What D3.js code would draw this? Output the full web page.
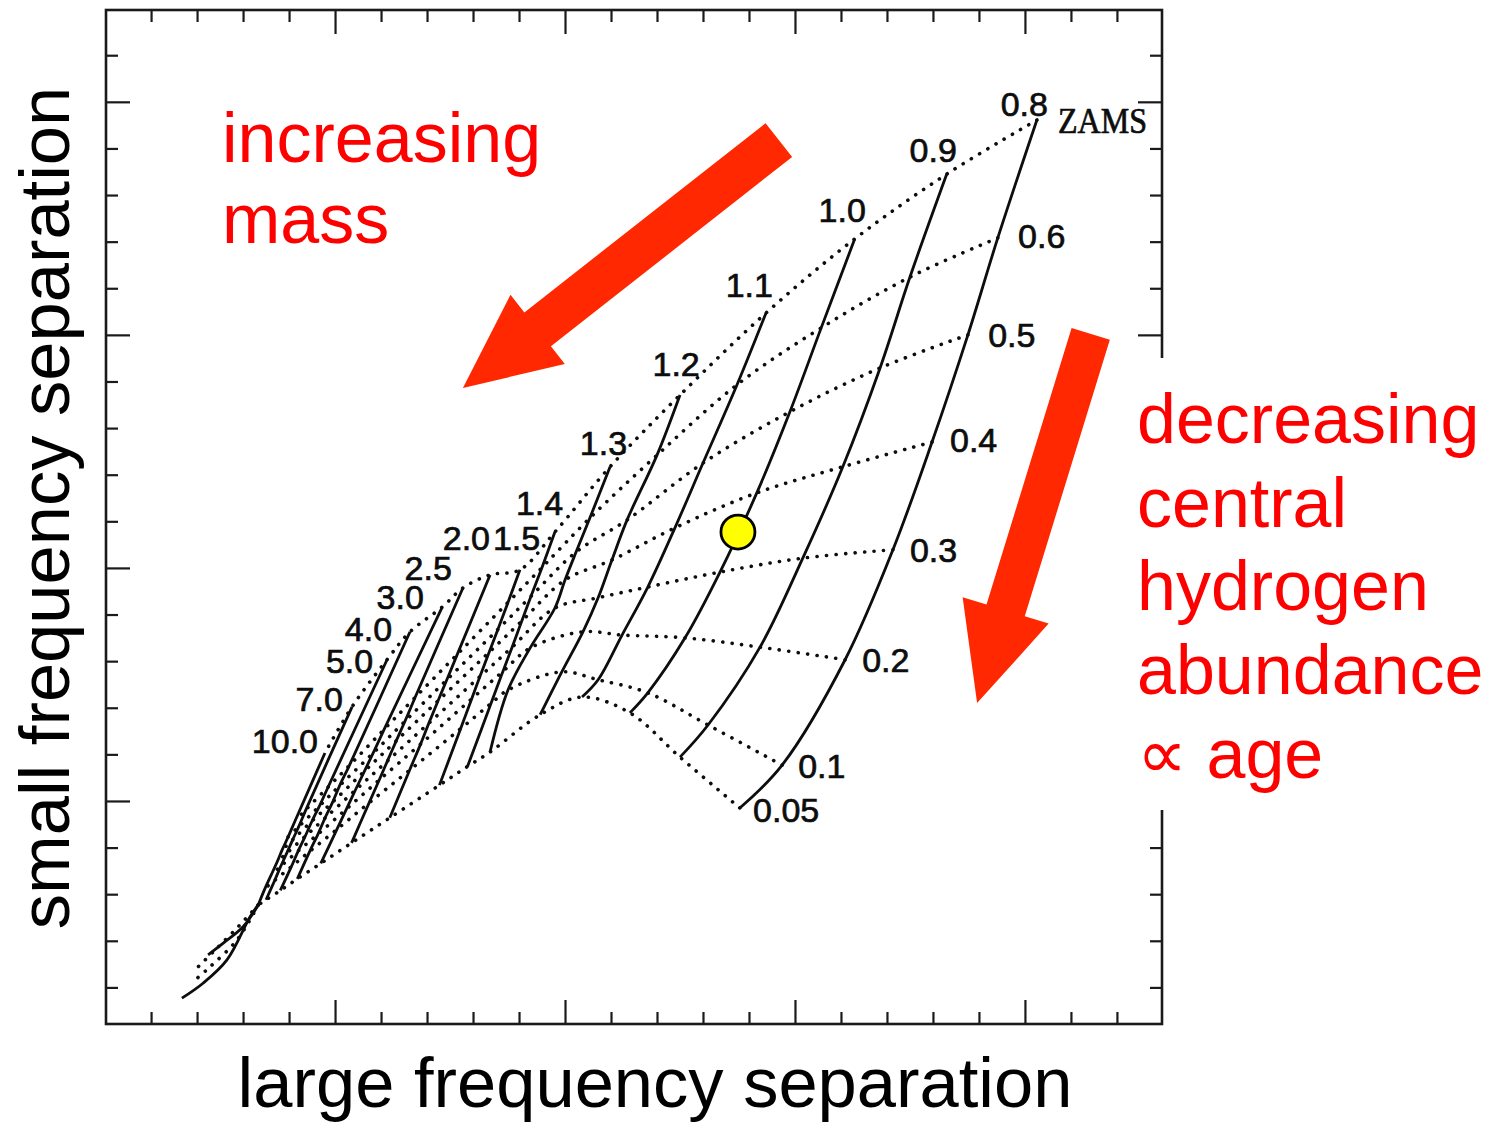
<!DOCTYPE html>
<html><head><meta charset="utf-8">
<script src="https://cdn.jsdelivr.net/npm/d3@7/dist/d3.min.js"></script>
<style>body{margin:0;background:#fff}svg{display:block}</style>
</head><body>
<svg id="c" width="1494" height="1124"></svg>
<script>
// ---------- DATA (large separation Δν, small separation δν) ----------
const masses = ["0.8","0.9","1.0","1.1","1.2","1.3","1.4","1.5","2.0","2.5","3.0","4.0","5.0","7.0","10.0"];
const xcLevels = ["ZAMS","0.6","0.5","0.4","0.3","0.2","0.1","0.05"];

// nodes along each evolutionary track, one per central-hydrogen level (ZAMS ... 0.05)
const track_0_8  = [[202.6,19.61],[194.1,17.08],[187.6,15.00],[179.8,12.70],[171.3,10.39],[160.9,8.03],[147.2,5.77],[138.0,4.85]];
const track_0_9  = [[183.0,18.45],[175.0,16.24],[168.5,14.29],[160.4,12.17],[151.7,10.21],[142.4,8.30],[131.1,6.63],[125.0,5.94]];
const track_1_0  = [[163.0,17.06],[155.7,15.15],[148.9,13.35],[141.7,11.61],[133.7,9.91],[126.1,8.50],[118.0,7.32],[114.1,6.89]];
const track_1_1  = [[143.7,15.47],[137.4,13.93],[130.0,12.25],[123.9,10.86],[118.0,9.59],[112.4,8.56],[107.2,7.60],[103.7,7.23]];
const track_1_2  = [[125.0,13.71],[120.0,12.42],[113.5,11.03],[110.2,10.17],[107.2,9.36],[103.9,8.63],[99.3,7.77],[94.6,6.85]];
const track_1_3  = [[109.8,12.17],[105.4,11.07],[102.4,10.34],[100.0,9.74],[97.8,9.14],[92.4,8.28],[87.6,7.38],[83.7,6.05]];
const track_1_4  = [[97.8,10.77],[95.0,10.01],[92.6,9.39],[90.6,8.86],[88.5,8.30],[86.5,7.78],[83.9,7.09],[78.8,5.74]];
const track_1_5  = [[90.2,9.96],[87.6,9.26],[85.4,8.68],[83.5,8.19],[81.5,7.67],[79.7,7.19],[77.3,6.55],[72.7,5.34]];
const track_2_0  = [[83.7,9.85],[76.6,8.15],[74.3,7.60],[72.4,7.15],[70.4,6.67],[68.6,6.22],[66.2,5.66],[61.9,4.64]];
const track_2_5  = [[77.8,9.57],[67.4,7.22],[65.2,6.71],[63.3,6.29],[61.4,5.86],[59.6,5.45],[57.4,4.96],[53.6,4.10]];
const track_3_0  = [[73.3,9.16],[60.7,6.54],[58.3,6.03],[56.4,5.64],[54.4,5.23],[52.5,4.83],[50.4,4.39],[46.9,3.66]];
const track_4_0  = [[66.3,8.63],[53.1,5.76],[51.0,5.33],[49.5,4.98],[47.8,4.63],[46.3,4.29],[44.5,3.92],[41.8,3.33]];
const track_5_0  = [[61.3,8.03],[48.5,5.30],[46.6,4.89],[45.0,4.57],[43.5,4.24],[42.0,3.93],[40.5,3.59],[38.1,3.08]];
const track_7_0  = [[53.7,7.02],[43.7,4.82],[42.1,4.45],[40.8,4.17],[39.5,3.88],[38.2,3.60],[36.9,3.30],[35.0,2.88]];
const track_10_0 = [[47.8,6.03],[41.3,4.57],[39.8,4.23],[38.5,3.95],[37.4,3.69],[36.1,3.41],[34.8,3.13],[33.3,2.77]];

// continuation of the bundle beyond the convergence point
const tailSolidA  = [[33.3,2.77],[31.5,2.51],[26.5,1.59],[21.3,1.09],[16.7,0.77]];
const tailSolidB  = [[33.3,2.77],[30.0,2.30],[25.7,1.95],[22.4,1.70]];
const tailDottedC = [[33.3,2.77],[28.7,2.02],[22.8,1.44],[19.1,1.12]];
const tailDottedD = [[33.3,2.77],[29.3,2.34],[23.9,1.80],[20.0,1.42]];

// observed star
const star = [137.6, 10.77];

// label anchors
const massLabelPos = [[205.0,19.70],[185.2,18.71],[165.4,17.42],[145.2,15.82],[129.3,14.12],[113.5,12.42],[99.6,11.14],[94.6,10.39],[83.7,10.39],[75.4,9.74],[69.3,9.12],[62.4,8.43],[58.3,7.75],[51.7,6.93],[46.3,6.03]];
const xcLabelPos = [[207.2,19.33],[198.5,16.87],[192.0,14.74],[183.7,12.49],[175.0,10.13],[164.6,7.77],[150.7,5.49],[140.9,4.55]];

// ticks
const xMajorTicks = [50,100,150,200];
const xMinorTicks = [10,20,30,40,60,70,80,90,110,120,130,140,160,170,180,190,210,220];
const yMajorTicks = [5,10,15,20];
const yMinorTicks = [1,2,3,4,6,7,8,9,11,12,13,14,16,17,18,19,21];

// annotation arrows: [tail, tip] in data units
const arrowMass = [[146.5,19.18],[77.8,13.86]];
const arrowAge  = [[214.3,15.02],[189.6,7.10]];

const massText = ["increasing","mass"];
const ageText = ["decreasing","central","hydrogen","abundance","\u221D age"];
const xTitle = "large frequency separation";
const yTitle = "small frequency separation";

// ---------- CHART ----------
const svg = d3.select("#c");
const L = 106, R = 1162, T = 10, B = 1024;
const x = d3.scaleLinear().domain([0.2, 229.8]).range([L, R]);
const y = d3.scaleLinear().domain([0.215, 21.97]).range([B, T]);
const ink = "#0d0d0d";
const red = "#ff0000";
const arrowRed = "#ff2800";

const trackArrays = [track_0_8,track_0_9,track_1_0,track_1_1,track_1_2,track_1_3,track_1_4,track_1_5,track_2_0,track_2_5,track_3_0,track_4_0,track_5_0,track_7_0,track_10_0];
const tracks = masses.map((m,i)=>({mass:m, pts:trackArrays[i]}));
const isopleths = xcLevels.map((lev,k)=>({level:lev, pts:tracks.map(t=>t.pts[k])}));

const line = d3.line().x(d=>x(d[0])).y(d=>y(d[1])).curve(d3.curveCatmullRom.alpha(0.5));

// axes (ticks inward on all four sides)
function axisGroup(axisFn, scale, vals, size, transform){
  const g = svg.append("g").attr("transform", transform)
    .call(axisFn(scale).tickValues(vals).tickSizeInner(-size).tickSizeOuter(0).tickFormat(""));
  g.select(".domain").remove();
  g.selectAll("line").attr("stroke", "#1a1a1a").attr("stroke-width", 2.2);
}
axisGroup(d3.axisBottom, x, xMinorTicks, 12, `translate(0,${B})`);
axisGroup(d3.axisBottom, x, xMajorTicks, 24, `translate(0,${B})`);
axisGroup(d3.axisTop, x, xMinorTicks, 12, `translate(0,${T})`);
axisGroup(d3.axisTop, x, xMajorTicks, 24, `translate(0,${T})`);
axisGroup(d3.axisLeft, y, yMinorTicks, 12, `translate(${L},0)`);
axisGroup(d3.axisLeft, y, yMajorTicks, 24, `translate(${L},0)`);
axisGroup(d3.axisRight, y, yMinorTicks, 12, `translate(${R},0)`);
axisGroup(d3.axisRight, y, yMajorTicks, 24, `translate(${R},0)`);
svg.append("rect").attr("x",L).attr("y",T).attr("width",R-L).attr("height",B-T)
  .attr("fill","none").attr("stroke","#1a1a1a").attr("stroke-width",2.6);

// isopleths (dotted)
const dotted = {"stroke":ink,"stroke-width":3.6,"stroke-dasharray":"0.1,9.4","stroke-linecap":"round","fill":"none"};
function styleAll(sel, st){ for(const k in st) sel.attr(k, st[k]); return sel; }
styleAll(svg.append("g").selectAll("path").data(isopleths).join("path").attr("d", d=>line(d.pts)), dotted);
styleAll(svg.append("g").selectAll("path").data([tailDottedC, tailDottedD]).join("path").attr("d", d=>line(d)), dotted);

// tracks (solid)
svg.append("g").selectAll("path").data(tracks).join("path")
  .attr("d", d=>line(d.pts)).attr("fill","none").attr("stroke",ink).attr("stroke-width",2.8);
svg.append("g").selectAll("path").data([tailSolidA, tailSolidB]).join("path")
  .attr("d", d=>line(d)).attr("fill","none").attr("stroke",ink).attr("stroke-width",2.8);

// labels
const lab = svg.append("g").attr("font-family","'Liberation Sans', Arial, sans-serif").attr("font-size",34)
  .attr("fill",ink).attr("stroke",ink).attr("stroke-width",0.7);
lab.selectAll("text.m").data(masses).join("text").attr("class","m")
  .attr("x",(d,i)=>x(massLabelPos[i][0])).attr("y",(d,i)=>y(massLabelPos[i][1]))
  .attr("text-anchor","end").text(d=>d);
lab.selectAll("text.xc").data(xcLevels).join("text").attr("class","xc")
  .attr("x",(d,i)=>x(xcLabelPos[i][0])).attr("y",(d,i)=>y(xcLabelPos[i][1]))
  .attr("text-anchor","start")
  .attr("font-family",d=>d==="ZAMS" ? "'Liberation Serif', 'DejaVu Serif', serif" : null)
  .attr("font-size",d=>d==="ZAMS" ? 36 : null)
  .attr("textLength",d=>d==="ZAMS" ? 89 : null)
  .attr("lengthAdjust","spacingAndGlyphs")
  .text(d=>d);

// white panel behind right-hand annotation
svg.append("rect").attr("x",1128).attr("y",358).attr("width",1494-1128).attr("height",452).attr("fill","#fff");

// arrows
function arrowPath(a, shaftW, headW, headL){
  const x0=x(a[0][0]), y0=y(a[0][1]), x1=x(a[1][0]), y1=y(a[1][1]);
  const len=Math.hypot(x1-x0,y1-y0), ux=(x1-x0)/len, uy=(y1-y0)/len, px=-uy, py=ux;
  const bx=x1-ux*headL, by=y1-uy*headL;
  const p=[[x0+px*shaftW/2,y0+py*shaftW/2],[bx+px*shaftW/2,by+py*shaftW/2],[bx+px*headW/2,by+py*headW/2],
           [x1,y1],[bx-px*headW/2,by-py*headW/2],[bx-px*shaftW/2,by-py*shaftW/2],[x0-px*shaftW/2,y0-py*shaftW/2]];
  return "M"+p.map(q=>q.join(",")).join("L")+"Z";
}
svg.append("path").attr("d",arrowPath(arrowMass,43,88,95)).attr("fill",arrowRed);
svg.append("path").attr("d",arrowPath(arrowAge,40,90,97)).attr("fill",arrowRed);

// star
svg.append("circle").attr("cx",x(star[0])).attr("cy",y(star[1])).attr("r",17)
  .attr("fill","#ffff00").attr("stroke","#000").attr("stroke-width",2.8);

// red annotation text
const ann = svg.append("g").attr("font-family","'Liberation Sans', Arial, sans-serif").attr("font-size",70).attr("fill",red);
ann.selectAll("text.a").data(massText).join("text").attr("class","a")
  .attr("x",222).attr("y",(d,i)=>162+i*81).text(d=>d);
ann.selectAll("text.b").data(ageText).join("text").attr("class","b")
  .attr("x",1137).attr("y",(d,i)=>443+i*83.7).text(d=>d);

// axis titles
const tt = svg.append("g").attr("font-family","'Liberation Sans', Arial, sans-serif").attr("font-size",70.5).attr("fill","#000");
tt.append("text").attr("x",655).attr("y",1107).attr("text-anchor","middle").text(xTitle);
tt.append("text").attr("transform","translate(69,508) rotate(-90)").attr("text-anchor","middle").text(yTitle);
</script>
</body></html>
